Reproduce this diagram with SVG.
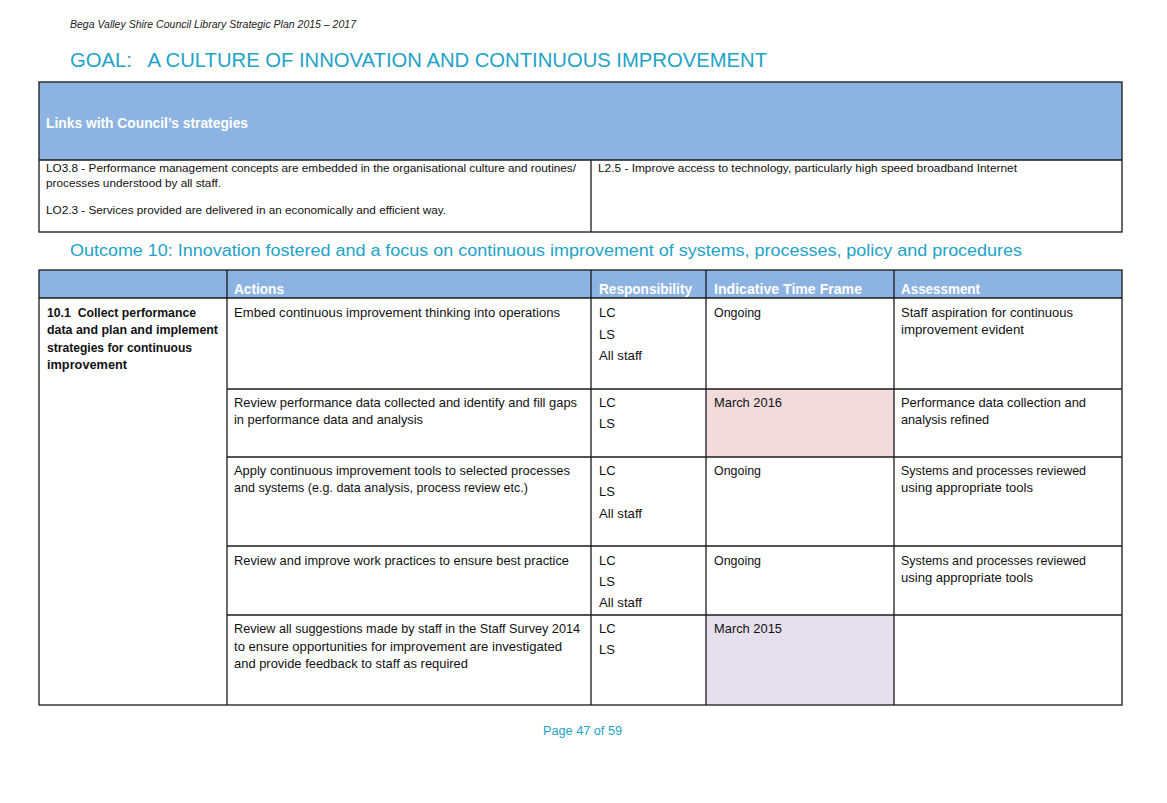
<svg xmlns="http://www.w3.org/2000/svg" width="1167" height="803" viewBox="0 0 1167 803">
<style>
.bg{fill:#ffffff}
.hdr{fill:#8DB3E2}
.ln{stroke:#1a1a1a;stroke-width:1.3;fill:none}
.cyan{fill:#1EA3C7;font-family:"Liberation Sans",Arial,sans-serif}
.t1{font-family:"Liberation Sans",Arial,sans-serif;font-size:11px;fill:#111}
.b{font-family:"Liberation Sans",Arial,sans-serif;font-size:13px;fill:#111}
.bb{font-family:"Liberation Sans",Arial,sans-serif;font-size:13px;font-weight:bold;fill:#111}
.wh{font-family:"Liberation Sans",Arial,sans-serif;font-size:14px;font-weight:bold;fill:#ffffff}
</style>
<rect class="bg" x="0" y="0" width="1167" height="803"/>
<g id="page-header">
<text x="70" y="28" font-family="Liberation Sans, Arial, sans-serif" font-size="11" font-style="italic" fill="#222" textLength="286" lengthAdjust="spacingAndGlyphs">Bega Valley Shire Council Library Strategic Plan 2015 – 2017</text>
<text class="cyan" x="70" y="67" font-size="21" textLength="697" lengthAdjust="spacingAndGlyphs" xml:space="preserve">GOAL:   A CULTURE OF INNOVATION AND CONTINUOUS IMPROVEMENT</text>
</g>
<g id="links-table">
<rect class="hdr" x="39" y="82" width="1083" height="78"/>
<text class="wh" x="46" y="128" textLength="202" lengthAdjust="spacingAndGlyphs">Links with Council’s strategies</text>
<text class="t1" x="46" y="172" textLength="530" lengthAdjust="spacingAndGlyphs">LO3.8 - Performance management concepts are embedded in the organisational culture and routines/</text>
<text class="t1" x="46" y="187" textLength="175" lengthAdjust="spacingAndGlyphs">processes understood by all staff.</text>
<text class="t1" x="46" y="214" textLength="400" lengthAdjust="spacingAndGlyphs">LO2.3 - Services provided are delivered in an economically and efficient way.</text>
<text class="t1" x="598" y="172" textLength="419" lengthAdjust="spacingAndGlyphs">L2.5 - Improve access to technology, particularly high speed broadband Internet</text>
<rect class="ln" x="39" y="82" width="1083" height="150"/>
<line class="ln" x1="39" y1="160" x2="1122" y2="160"/>
<line class="ln" x1="591" y1="160" x2="591" y2="232"/>
</g>
<g id="outcome">
<text class="cyan" x="70" y="256" font-size="16" textLength="952" lengthAdjust="spacingAndGlyphs">Outcome 10: Innovation fostered and a focus on continuous improvement of systems, processes, policy and procedures</text>
</g>
<g id="actions-table">
<rect class="hdr" x="39" y="270" width="1083" height="28"/>
<rect x="706" y="389" width="188" height="68" fill="#F2DCDB"/>
<rect x="706" y="615" width="188" height="90" fill="#E5E0EC"/>
<g id="header-row">
<text class="wh" x="234" y="294" textLength="50" lengthAdjust="spacingAndGlyphs">Actions</text>
<text class="wh" x="599" y="294" textLength="93" lengthAdjust="spacingAndGlyphs">Responsibility</text>
<text class="wh" x="714" y="294" textLength="148" lengthAdjust="spacingAndGlyphs">Indicative Time Frame</text>
<text class="wh" x="901" y="294" textLength="79" lengthAdjust="spacingAndGlyphs">Assessment</text>
</g>
<g id="strategy-10-1">
<text class="bb" x="47" y="317" textLength="149" lengthAdjust="spacingAndGlyphs" xml:space="preserve">10.1  Collect performance</text>
<text class="bb" x="47" y="334" textLength="171" lengthAdjust="spacingAndGlyphs">data and plan and implement</text>
<text class="bb" x="47" y="352" textLength="145" lengthAdjust="spacingAndGlyphs">strategies for continuous</text>
<text class="bb" x="47" y="369" textLength="80" lengthAdjust="spacingAndGlyphs">improvement</text>
</g>
<g id="row1">
<text class="b" x="234" y="317" textLength="326" lengthAdjust="spacingAndGlyphs">Embed continuous improvement thinking into operations</text>
<text class="b" x="599" y="317">LC</text>
<text class="b" x="599" y="339">LS</text>
<text class="b" x="599" y="360" textLength="43" lengthAdjust="spacingAndGlyphs">All staff</text>
<text class="b" x="714" y="317" textLength="47" lengthAdjust="spacingAndGlyphs">Ongoing</text>
<text class="b" x="901" y="317" textLength="172" lengthAdjust="spacingAndGlyphs">Staff aspiration for continuous</text>
<text class="b" x="901" y="334" textLength="123" lengthAdjust="spacingAndGlyphs">improvement evident</text>
</g>
<g id="row2">
<text class="b" x="234" y="407" textLength="343" lengthAdjust="spacingAndGlyphs">Review performance data collected and identify and fill gaps</text>
<text class="b" x="234" y="424" textLength="189" lengthAdjust="spacingAndGlyphs">in performance data and analysis</text>
<text class="b" x="599" y="407">LC</text>
<text class="b" x="599" y="428">LS</text>
<text class="b" x="714" y="407" textLength="68" lengthAdjust="spacingAndGlyphs">March 2016</text>
<text class="b" x="901" y="407" textLength="185" lengthAdjust="spacingAndGlyphs">Performance data collection and</text>
<text class="b" x="901" y="424" textLength="88" lengthAdjust="spacingAndGlyphs">analysis refined</text>
</g>
<g id="row3">
<text class="b" x="234" y="475" textLength="336" lengthAdjust="spacingAndGlyphs">Apply continuous improvement tools to selected processes</text>
<text class="b" x="234" y="492" textLength="294" lengthAdjust="spacingAndGlyphs">and systems (e.g. data analysis, process review etc.)</text>
<text class="b" x="599" y="475">LC</text>
<text class="b" x="599" y="496">LS</text>
<text class="b" x="599" y="518" textLength="43" lengthAdjust="spacingAndGlyphs">All staff</text>
<text class="b" x="714" y="475" textLength="47" lengthAdjust="spacingAndGlyphs">Ongoing</text>
<text class="b" x="901" y="475" textLength="185" lengthAdjust="spacingAndGlyphs">Systems and processes reviewed</text>
<text class="b" x="901" y="492" textLength="132" lengthAdjust="spacingAndGlyphs">using appropriate tools</text>
</g>
<g id="row4">
<text class="b" x="234" y="565" textLength="335" lengthAdjust="spacingAndGlyphs">Review and improve work practices to ensure best practice</text>
<text class="b" x="599" y="565">LC</text>
<text class="b" x="599" y="586">LS</text>
<text class="b" x="599" y="607" textLength="43" lengthAdjust="spacingAndGlyphs">All staff</text>
<text class="b" x="714" y="565" textLength="47" lengthAdjust="spacingAndGlyphs">Ongoing</text>
<text class="b" x="901" y="565" textLength="185" lengthAdjust="spacingAndGlyphs">Systems and processes reviewed</text>
<text class="b" x="901" y="582" textLength="132" lengthAdjust="spacingAndGlyphs">using appropriate tools</text>
</g>
<g id="row5">
<text class="b" x="234" y="633" textLength="346" lengthAdjust="spacingAndGlyphs">Review all suggestions made by staff in the Staff Survey 2014</text>
<text class="b" x="234" y="651" textLength="328" lengthAdjust="spacingAndGlyphs">to ensure opportunities for improvement are investigated</text>
<text class="b" x="234" y="668" textLength="234" lengthAdjust="spacingAndGlyphs">and provide feedback to staff as required</text>
<text class="b" x="599" y="633">LC</text>
<text class="b" x="599" y="654">LS</text>
<text class="b" x="714" y="633" textLength="68" lengthAdjust="spacingAndGlyphs">March 2015</text>
</g>
<g id="grid">
<rect class="ln" x="39" y="270" width="1083" height="435"/>
<line class="ln" x1="39" y1="298" x2="1122" y2="298"/>
<line class="ln" x1="227" y1="270" x2="227" y2="705"/>
<line class="ln" x1="591" y1="270" x2="591" y2="705"/>
<line class="ln" x1="706" y1="270" x2="706" y2="705"/>
<line class="ln" x1="894" y1="270" x2="894" y2="705"/>
<line class="ln" x1="227" y1="389" x2="1122" y2="389"/>
<line class="ln" x1="227" y1="457" x2="1122" y2="457"/>
<line class="ln" x1="227" y1="546" x2="1122" y2="546"/>
<line class="ln" x1="227" y1="615" x2="1122" y2="615"/>
</g>
</g>
<g id="footer">
<text class="cyan" x="543" y="735" font-size="12" textLength="79" lengthAdjust="spacingAndGlyphs">Page 47 of 59</text>
</g>
</svg>
